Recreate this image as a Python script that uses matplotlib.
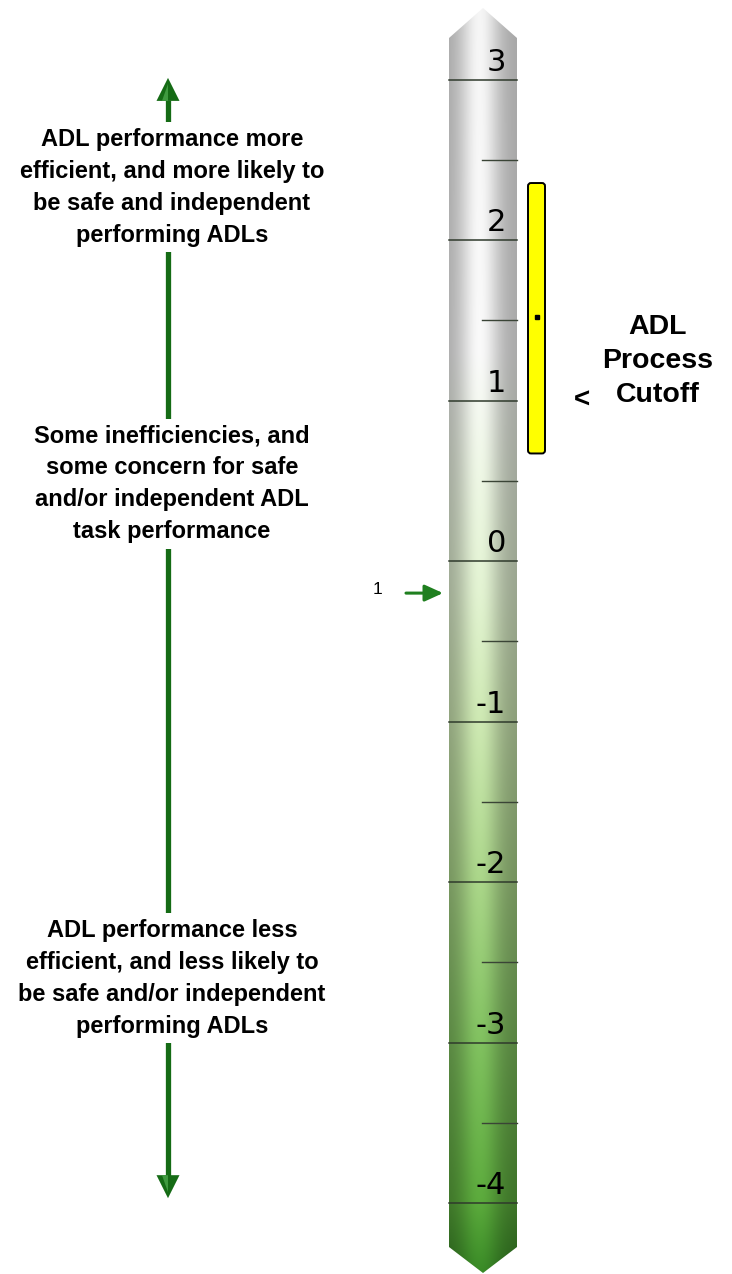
import numpy as np
import matplotlib
matplotlib.use("Agg")
import matplotlib.pyplot as plt
from matplotlib.patches import Polygon, FancyBboxPatch

# scale values shown on the ruler
major_values = [3, 2, 1, 0, -1, -2, -3, -4]
major_labels = ["3", "2", "1", "0", "-1", "-2", "-3", "-4"]
minor_values = [2.5, 1.5, 0.5, -0.5, -1.5, -2.5, -3.5]

# ADL process cutoff band and measure
cutoff_low = 0.67
cutoff_high = 2.355
cutoff_measure = 1.52
cutoff_marker = 1.0

# person measures
person_labels = ["1"]
person_values = [-0.2]

# descriptions on the left
descriptions = [
    "ADL performance more\nefficient, and more likely to\nbe safe and independent\nperforming ADLs",
    "Some inefficiencies, and\nsome concern for safe\nand/or independent ADL\ntask performance",
    "ADL performance less\nefficient, and less likely to\nbe safe and/or independent\nperforming ADLs",
]
description_values = [2.33, 0.48, -2.6]

# pixels per logit and position of zero
px_per_unit = 160.5
zero_px = 561
W, H = 732, 1274
y_top = zero_px / px_per_unit
y_bot = (zero_px - H) / px_per_unit

fig = plt.figure(figsize=(W / 100, H / 100), dpi=100)
ax = fig.add_axes([0, 0, 1, 1])
ax.set_xlim(0, W)
ax.set_ylim(y_bot, y_top)
ax.axis("off")

u = 1 / px_per_unit  # one pixel in value units

# ruler shape
x0, x1 = 449, 517
xc = (x0 + x1) / 2
tip_top = y_top - 8 * u
sh_top = y_top - 38 * u
sh_bot = y_bot + 27 * u
tip_bot = y_bot + 1 * u
ruler = Polygon([(x0, sh_top), (xc, tip_top), (x1, sh_top), (x1, sh_bot),
                 (xc, tip_bot), (x0, sh_bot)], closed=True,
                facecolor="none", edgecolor="none")
ax.add_patch(ruler)

# gradient fill
anchors_v = [3.5, 1.3, 0.6, -0.2, -1.0, -2.0, -3.0, -4.0, -4.45]
anchors_c = np.array([
    [236, 236, 236], [240, 240, 240], [230, 238, 222], [218, 234, 202],
    [198, 224, 172], [164, 206, 132], [124, 186, 92], [88, 164, 58],
    [54, 132, 36]], dtype=float)
rows = np.linspace(tip_top, tip_bot, 600)
base = np.stack([np.interp(rows, anchors_v[::-1], anchors_c[::-1, k]) for k in range(3)], axis=1)
cols = np.linspace(0, 1, 120)
prof = 0.70 + 0.34 * np.exp(-((cols - 0.45) / 0.30) ** 2)
img = np.clip(base[:, None, :] * prof[None, :, None], 0, 255) / 255.0
im = ax.imshow(img, extent=[x0, x1, tip_bot, tip_top], aspect="auto",
               origin="upper", interpolation="bilinear", zorder=1)
im.set_clip_path(ruler)

# tick lines and labels
for v, lab in zip(major_values, major_labels):
    ax.plot([x0, x1], [v, v], color="#2f3a2c", lw=1.1, zorder=2)
    ax.text(506, v + 9 * u, lab, ha="right", va="baseline",
            fontsize=22, family="DejaVu Sans", color="black", zorder=3)
for v in minor_values:
    ax.plot([482, x1], [v, v], color="#3a4436", lw=1.0, zorder=2)

# cutoff band
band = FancyBboxPatch((528, cutoff_low), 17, cutoff_high - cutoff_low,
                      boxstyle="round,pad=0,rounding_size=3",
                      mutation_aspect=u, facecolor="#ffff00",
                      edgecolor="black", lw=1.4, zorder=3)
ax.add_patch(band)
ax.plot([536.5], [cutoff_measure], marker="s", ms=2.5, color="black", zorder=4)
ax.text(582, cutoff_marker, "<", ha="center", va="center", fontsize=20,
        fontweight="bold", family="Liberation Sans")
ax.text(658, (zero_px - 361) / px_per_unit, "ADL\nProcess\nCutoff", ha="center",
        va="center", fontsize=20.5, fontweight="bold", family="Liberation Sans",
        linespacing=1.38)

# person measures
for lab, v in zip(person_labels, person_values):
    ax.text(378, v + 4 * u, lab, ha="center", va="center", fontsize=12.5,
            family="Liberation Sans")
    ax.annotate("", xy=(443, v), xytext=(406, v),
                arrowprops=dict(arrowstyle="-|>,head_length=1.1,head_width=0.5",
                                color="#1f7f1f", lw=2.2, shrinkA=0, shrinkB=0))

# left double arrow
ax_x = 168
arrow_top = 3.01
arrow_bot = -3.97
head = 23 * u
green = "#156b15"
ax.plot([ax_x, ax_x], [arrow_top - head + u, arrow_bot + head - u], color=green,
        lw=3.8, solid_capstyle="butt", zorder=1)
for tip, sgn in [(arrow_top, -1), (arrow_bot, 1)]:
    ax.add_patch(Polygon([(ax_x - 11.5, tip + sgn * head), (ax_x, tip),
                          (ax_x + 11.5, tip + sgn * head)], closed=True,
                         facecolor=green, edgecolor="none", zorder=2))
    ax.add_patch(Polygon([(ax_x - 6, tip + sgn * head), (ax_x, tip + sgn * 6 * u),
                          (ax_x, tip + sgn * head)], closed=True,
                         facecolor="#3f9a3f", edgecolor="none", zorder=2))

for txt, v in zip(descriptions, description_values):
    ax.text(172, v, txt, ha="center", va="center", fontsize=17,
            fontweight="bold", family="Liberation Sans", linespacing=1.5,
            zorder=3, bbox=dict(facecolor="white", edgecolor="none", pad=4))

fig.savefig("out.png", dpi=100)
